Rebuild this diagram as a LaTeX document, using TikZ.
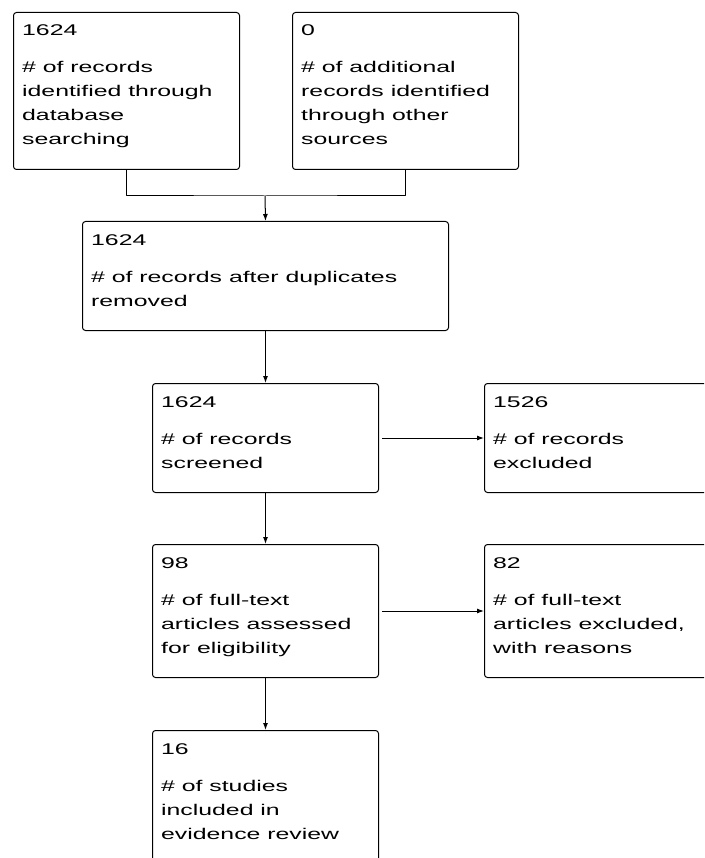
\documentclass[tikz,border=0pt]{standalone}
\usepackage{fontspec}
\setmainfont{Liberation Sans}[FakeStretch=1.6]
\usetikzlibrary{arrows.meta}

\newcommand{\rectext}[2]{\parbox[t]{350pt}{\raggedright #1\\[13pt]#2}}

\begin{document}
\begin{tikzpicture}[x=1pt,y=1pt,line join=round,
    box/.style={draw,line width=1pt,rounded corners=3pt,anchor=north west,minimum width=226pt,inner sep=0pt},
    txt/.style={anchor=base west,inner sep=0pt,font=\fontsize{15.5}{24}\selectfont},
    arr/.style={-{Latex[length=7pt,width=5pt]},line width=1pt}]
  \useasboundingbox (0,0) rectangle (704,-858);
  \clip (0,0) rectangle (704,-858);
  % boxes
  \node[box,minimum height=157pt] (id1) at (13,-12) {};
  \node[box,minimum height=157pt] (id2) at (292,-12) {};
  \node[box,minimum width=366pt,minimum height=109pt] (dup) at (82,-221) {};
  \node[box,minimum height=109pt] (scr) at (152,-383) {};
  \node[box,minimum height=109pt] (exc1) at (484,-383) {};
  \node[box,minimum height=133pt] (full) at (152,-544) {};
  \node[box,minimum height=133pt] (exc2) at (484,-544) {};
  \node[box,minimum height=133pt] (inc) at (152,-730) {};
  % texts
  \node[txt] (tid1) at ([shift={(9,-24)}]id1.north west) {\rectext{1624}{\# of records\\identified through\\database\\searching}};
  \node[txt] (tid2) at ([shift={(9,-24)}]id2.north west) {\rectext{0}{\# of additional\\records identified\\through other\\sources}};
  \node[txt] (tdup) at ([shift={(9,-25)}]dup.north west) {\rectext{1624}{\# of records after duplicates\\removed}};
  \node[txt] (tscr) at ([shift={(9,-24)}]scr.north west) {\rectext{1624}{\# of records\\screened}};
  \node[txt] (texc1) at ([shift={(9,-24)}]exc1.north west) {\rectext{1526}{\# of records\\excluded}};
  \node[txt] (tfull) at ([shift={(9,-24)}]full.north west) {\rectext{98}{\# of full-text\\articles assessed\\for eligibility}};
  \node[txt] (texc2) at ([shift={(9,-24)}]exc2.north west) {\rectext{82}{\# of full-text\\articles excluded,\\with reasons}};
  \node[txt] (tinc) at ([shift={(9,-24)}]inc.north west) {\rectext{16}{\# of studies\\included in\\evidence review}};
  % connectors
  \coordinate (mg) at (265,-196);
  \draw[line width=1pt] (id1.south) |- (mg) -| (id2.south);
  \draw[arr] (mg) -- (dup.north);
  \draw[arr] (dup.south) -- (scr.north);
  \draw[arr,shorten <=3pt] (scr.east) -- (exc1.west);
  \draw[arr] (scr.south) -- (full.north);
  \draw[arr,shorten <=3pt] (full.east) -- (exc2.west);
  \draw[arr] (full.south) -- (inc.north);
\end{tikzpicture}
\end{document}
